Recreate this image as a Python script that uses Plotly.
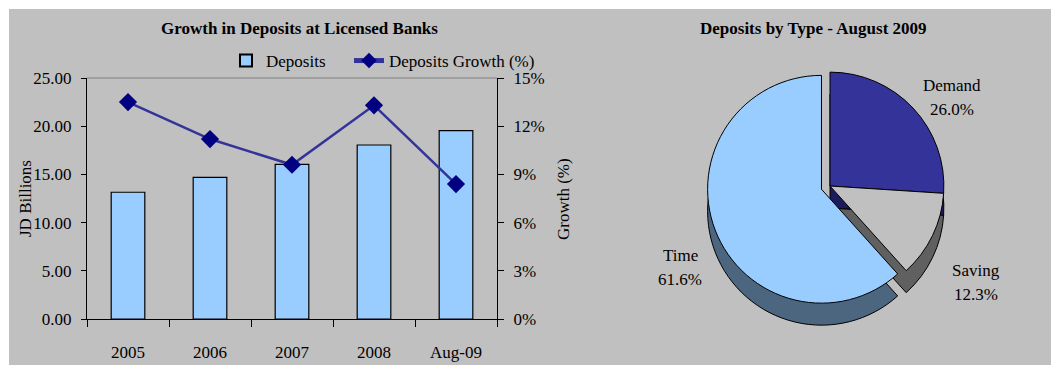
import plotly.graph_objects as go

W, H = 1051, 365

# ---- data ----
years = ["2005", "2006", "2007", "2008", "Aug-09"]
deposits = [13.15, 14.7, 16.05, 18.05, 19.55]          # JD billions
growth = [13.5, 11.2, 9.6, 13.3, 8.4]                   # %
types = ["Demand", "Saving", "Time"]
shares = [26.0, 12.3, 61.6]                             # %

FONT = "Liberation Serif, Times New Roman, serif"
GRAY = "#C0C0C0"

def px_x(v):
    return v / W

def px_y(v):
    return 1 - v / H

fig = go.Figure()

fig.add_trace(go.Bar(
    x=years, y=deposits, name="Deposits", legendwidth=78,
    marker=dict(color="#99CCFF", line=dict(color="black", width=1.2)),
    xaxis="x", yaxis="y",
))
fig.add_trace(go.Scatter(
    x=years, y=growth, name="Deposits Growth (%)", mode="lines+markers",
    line=dict(color="#333399", width=2.5),
    marker=dict(symbol="diamond", size=14, color="#000080"),
    xaxis="x", yaxis="y2",
))

# pie: shadow (depth) + top face
pull = [0, 0, 0.08]
cx, cy, d, depth = 830, 186, 246, 22
fig.add_trace(go.Pie(
    labels=types, values=shares, sort=False, direction="clockwise", rotation=0,
    pull=pull, textinfo="none", hoverinfo="skip", showlegend=False,
    marker=dict(colors=["#1C1C5C", "#606060", "#4D6680"], line=dict(color="black", width=1)),
    domain=dict(x=[px_x(cx - d / 2), px_x(cx + d / 2)],
                y=[px_y(cy + depth + d / 2), px_y(cy + depth - d / 2)]),
))
fig.add_trace(go.Pie(
    labels=types, values=shares, sort=False, direction="clockwise", rotation=0,
    pull=pull, textinfo="none", showlegend=False,
    marker=dict(colors=["#333399", GRAY, "#99CCFF"], line=dict(color="black", width=1)),
    domain=dict(x=[px_x(cx - d / 2), px_x(cx + d / 2)],
                y=[px_y(cy + d / 2), px_y(cy - d / 2)]),
))

# pie labels (name line + percent line)
label_pos = {"Demand": (952, 85), "Saving": (976, 270), "Time": (680, 255)}
annotations = []
for t, s in zip(types, shares):
    lx, ly = label_pos[t]
    for k, txt in enumerate([t, f"{s:.1f}%"]):
        annotations.append(dict(
            x=px_x(lx), y=px_y(ly + 24 * k), xref="paper", yref="paper", showarrow=False,
            text=txt, font=dict(family=FONT, size=17, color="black"),
            xanchor="center", yanchor="middle",
        ))

# titles
annotations += [
    dict(x=px_x(299), y=px_y(28), xref="paper", yref="paper", showarrow=False,
         text="<b>Growth in Deposits at Licensed Banks</b>",
         font=dict(family=FONT, size=17, color="black"), xanchor="center", yanchor="middle"),
    dict(x=px_x(813), y=px_y(28), xref="paper", yref="paper", showarrow=False,
         text="<b>Deposits by Type - August 2009</b>",
         font=dict(family=FONT, size=17, color="black"), xanchor="center", yanchor="middle"),
    dict(x=px_x(25), y=px_y(199), xref="paper", yref="paper", showarrow=False,
         text="JD Billions", textangle=-90,
         font=dict(family=FONT, size=17, color="black"), xanchor="center", yanchor="middle"),
    dict(x=px_x(563), y=px_y(199), xref="paper", yref="paper", showarrow=False,
         text="Growth (%)", textangle=-90,
         font=dict(family=FONT, size=17, color="black"), xanchor="center", yanchor="middle"),
]

x0, x1, y0, y1 = 87, 497, 78, 319
fig.update_layout(
    width=W, height=H, autosize=False,
    margin=dict(l=0, r=0, t=0, b=0, pad=0, autoexpand=False),
    paper_bgcolor="white", plot_bgcolor="white",
    font=dict(family=FONT, size=17, color="black"),
    bargap=0.59,
    showlegend=True,
    legend=dict(orientation="h", x=px_x(226), y=px_y(61), xanchor="left", yanchor="middle",
                bgcolor="rgba(0,0,0,0)", font=dict(family=FONT, size=17), tracegroupgap=0,
                itemsizing="constant"),
    xaxis=dict(domain=[px_x(x0), px_x(x1)], type="category", showline=True, linecolor="black",
               linewidth=1, ticks="outside", tickson="boundaries", ticklen=7, tickcolor="black",
               showgrid=False, ticklabelstandoff=18, tickfont=dict(size=17), fixedrange=True),
    yaxis=dict(domain=[px_y(y1), px_y(y0)], range=[0, 25], dtick=5, tickformat=".2f",
               showline=True, linecolor="black", linewidth=1, ticks="outside", ticklen=5,
               tickcolor="black", showgrid=False, zeroline=False, tickfont=dict(size=17),
               ticklabelstandoff=6),
    yaxis2=dict(overlaying="y", side="right", range=[0, 15], dtick=3, ticksuffix="%",
                showline=True, linecolor="black", linewidth=1, ticks="outside", ticklen=6,
                tickcolor="black", showgrid=False, zeroline=False, tickfont=dict(size=17),
                anchor="x", ticklabelstandoff=6),
    annotations=annotations,
    shapes=[
        dict(type="rect", xref="paper", yref="paper", x0=px_x(9), x1=1, y0=0, y1=px_y(9),
             fillcolor=GRAY, line=dict(width=0), layer="below"),
        dict(type="line", xref="x domain", yref="y domain", x0=0, x1=1, y0=1, y1=1,
             line=dict(color="#808080", width=1)),
    ],
)

fig.write_html("out.html")
